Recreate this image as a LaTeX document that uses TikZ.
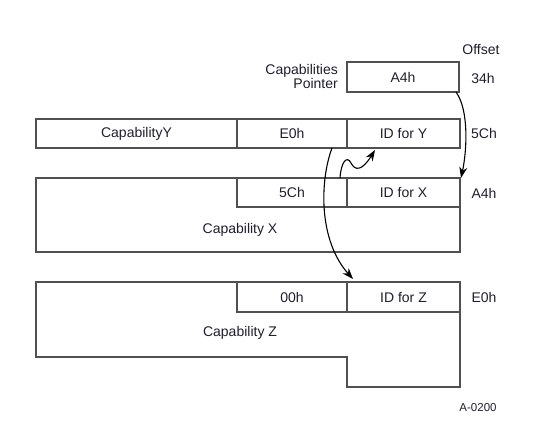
\documentclass[tikz,border=0pt]{standalone}
\usepackage{fontspec}
\setmainfont{Liberation Sans}
\usetikzlibrary{arrows.meta}
\definecolor{linegray}{HTML}{505050}
\definecolor{txt}{HTML}{1E1E2E}
\begin{document}
\begin{tikzpicture}[x=1pt,y=-1pt,
  every node/.style={font=\fontsize{14}{16}\selectfont, text=txt},
  cell/.style={draw=linegray, line width=1.1pt, inner sep=0pt},
  outline/.style={draw=linegray, line width=1.1pt},
  lbl/.style={inner sep=0pt},
  ptrarrow/.style={draw=black, line width=1.1pt, -{Stealth[length=11pt,width=8pt]}}]
\useasboundingbox (0,0) rectangle (548,447);
% pointer
\node[cell, minimum width=112pt, minimum height=30pt] (ptr) at (403,77) {A4h};
\node[lbl, anchor=east, align=right, font=\fontsize{14}{14}\selectfont] (ptrlbl) at (338,76) {Capabilities\\Pointer};
\node[lbl] (offset) at (481,50) {Offset};
\node[lbl] (o34) at (483,78) {34h};
% Capability Y row
\node[cell, minimum width=201pt, minimum height=29pt] (capY) at (136.5,133.5) {CapabilityY};
\node[cell, minimum width=110pt, minimum height=29pt] (e0) at (292,133.5) {E0h};
\node[cell, minimum width=113pt, minimum height=29pt] (idY) at (403.5,133.5) {ID for Y};
\node[lbl] (o5c) at (484,133) {5Ch};
% Capability X
\node[cell, minimum width=424pt, minimum height=74pt] (capX) at (248,215) {};
\node[cell, minimum width=110pt, minimum height=29pt] (x5c) at (292,192.5) {5Ch};
\node[cell, minimum width=113pt, minimum height=29pt] (idX) at (403.5,192.5) {ID for X};
\node[lbl] (capXlbl) at (240,230) {Capability X};
\node[lbl] (oA4) at (484,193) {A4h};
% Capability Z
\draw[outline] (36,282) -- (460,282) -- (460,387) -- (347,387) -- (347,357) -- (36,357) -- cycle;
\node[cell, minimum width=110pt, minimum height=30pt] (z00) at (292,297) {00h};
\node[cell, minimum width=113pt, minimum height=30pt] (idZ) at (403.5,297) {ID for Z};
\node[lbl] (capZlbl) at (240,333) {Capability Z};
\node[lbl] (oE0) at (484,297) {E0h};
\node[lbl, font=\fontsize{11.5}{13}\selectfont] (fig) at (478,408) {A-0200};
% arrows
\coordinate (a1s) at (456,92);
\coordinate (a1e) at (461,178);
\draw[ptrarrow] (a1s) .. controls (469,110) and (467,150) .. (a1e);
\coordinate (a2s) at (332,148);
\coordinate (a2e) at (353,279);
\draw[ptrarrow] (a2s) .. controls (320,180) and (318,240) .. (a2e);
\coordinate (a3s) at (340,178);
\coordinate (a3e) at (375,150);
\draw[ptrarrow] (a3s) .. controls (341,162) and (347,155) .. (351,163) .. controls (355,171) and (362,171) .. (a3e);
\end{tikzpicture}
\end{document}
